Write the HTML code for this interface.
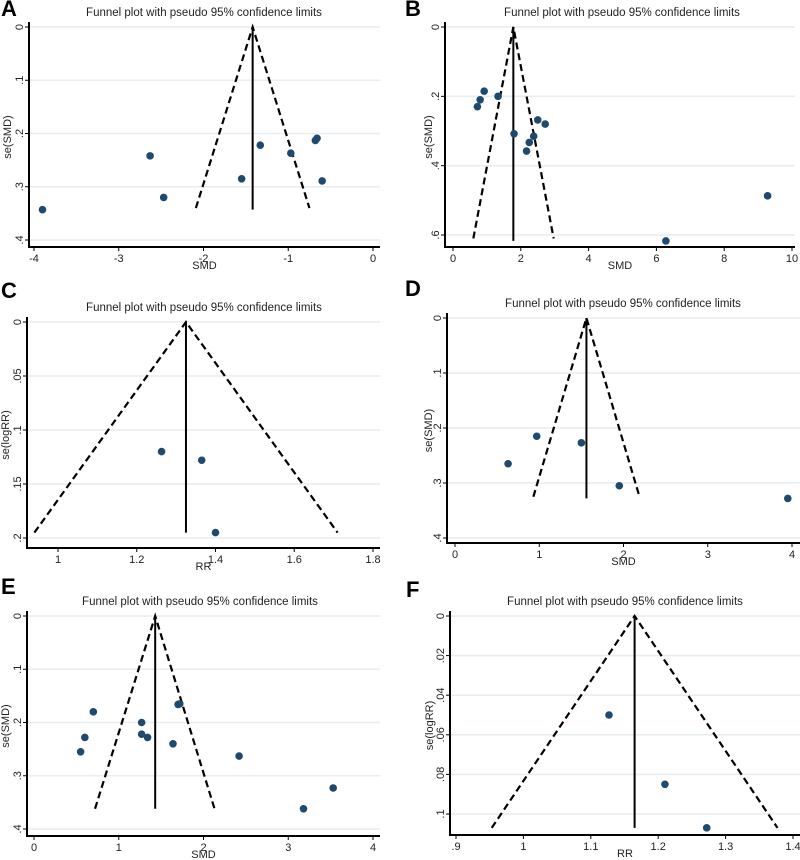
<!DOCTYPE html>
<html><head><meta charset="utf-8">
<style>
html,body{margin:0;padding:0;background:#fff;}
svg{display:block;font-family:"Liberation Sans",Arial,sans-serif;}
</style></head>
<body>
<svg id="fig" width="800" height="860" viewBox="0 0 800 860"></svg>
<script>
// Panel A data
const aSMD = [-3.9, -2.63, -2.47, -1.55, -1.33, -0.97, -0.68, -0.66, -0.6];
const aSE  = [0.343, 0.242, 0.32, 0.285, 0.222, 0.237, 0.213, 0.209, 0.289];
const aXTicks = [-4, -3, -2, -1, 0];
const aXTickLabels = ["-4", "-3", "-2", "-1", "0"];
const aYTicks = [0, 0.1, 0.2, 0.3, 0.4];
const aYTickLabels = ["0", ".1", ".2", ".3", ".4"];
const aPooled = [-1.42];
const aFunnelBottom = [0.34];
const aLimits = [-2.09, -0.75];
// Panel B data
const bSMD = [0.72, 0.8, 0.92, 1.33, 1.8, 2.17, 2.25, 2.38, 2.5, 2.72, 9.28, 6.28];
const bSE  = [0.23, 0.21, 0.185, 0.2, 0.308, 0.358, 0.333, 0.315, 0.268, 0.28, 0.487, 0.617];
const bXTicks = [0, 2, 4, 6, 8, 10];
const bXTickLabels = ["0", "2", "4", "6", "8", "10"];
const bYTicks = [0, 0.2, 0.4, 0.6];
const bYTickLabels = ["0", ".2", ".4", ".6"];
const bPooled = [1.78];
const bFunnelBottom = [0.61];
const bLimits = [0.6, 2.97];
// Panel C data
const cRR = [1.263, 1.365, 1.4];
const cSE = [0.12, 0.128, 0.195];
const cXTicks = [1, 1.2, 1.4, 1.6, 1.8];
const cXTickLabels = ["1", "1.2", "1.4", "1.6", "1.8"];
const cYTicks = [0, 0.05, 0.1, 0.15, 0.2];
const cYTickLabels = ["0", ".05", ".1", ".15", ".2"];
const cPooled = [1.325];
const cFunnelBottom = [0.195];
const cLimits = [0.94, 1.71];
// Panel D data
const dSMD = [0.63, 0.97, 1.5, 1.95, 3.95];
const dSE  = [0.265, 0.215, 0.227, 0.305, 0.328];
const dXTicks = [0, 1, 2, 3, 4];
const dXTickLabels = ["0", "1", "2", "3", "4"];
const dYTicks = [0, 0.1, 0.2, 0.3, 0.4];
const dYTickLabels = ["0", ".1", ".2", ".3", ".4"];
const dPooled = [1.56];
const dFunnelBottom = [0.325];
const dLimits = [0.93, 2.19];
// Panel E data
const eSMD = [0.55, 0.6, 0.7, 1.27, 1.27, 1.34, 1.64, 1.7, 1.72, 2.42, 3.18, 3.53];
const eSE  = [0.255, 0.228, 0.18, 0.2, 0.222, 0.228, 0.24, 0.166, 0.165, 0.263, 0.362, 0.323];
const eXTicks = [0, 1, 2, 3, 4];
const eXTickLabels = ["0", "1", "2", "3", "4"];
const eYTicks = [0, 0.1, 0.2, 0.3, 0.4];
const eYTickLabels = ["0", ".1", ".2", ".3", ".4"];
const ePooled = [1.43];
const eFunnelBottom = [0.362];
const eLimits = [0.72, 2.13];
// Panel F data
const fRR = [1.127, 1.21, 1.272];
const fSE = [0.05, 0.085, 0.107];
const fXTicks = [0.9, 1, 1.1, 1.2, 1.3, 1.4];
const fXTickLabels = [".9", "1", "1.1", "1.2", "1.3", "1.4"];
const fYTicks = [0, 0.02, 0.04, 0.06, 0.08, 0.1];
const fYTickLabels = ["0", ".02", ".04", ".06", ".08", ".1"];
const fPooled = [1.165];
const fFunnelBottom = [0.107];
const fLimits = [0.953, 1.377];

const NS = "http://www.w3.org/2000/svg";
const fig = document.getElementById("fig");
function mk(tag, attrs, parent, text) {
  const e = document.createElementNS(NS, tag);
  for (const k in attrs) e.setAttribute(k, attrs[k]);
  if (text !== undefined) e.textContent = text;
  (parent || fig).appendChild(e);
  return e;
}

function panel(cfg) {
  const g = mk("g", {});
  
  
  const sx = v => cfg.px0 + (v - cfg.xv0) / (cfg.xv1 - cfg.xv0) * (cfg.px1 - cfg.px0);
  const sy = v => cfg.py0 + (v - cfg.yv0) / (cfg.yv1 - cfg.yv0) * (cfg.py1 - cfg.py0);

  const letter = mk("text", {x: cfg.lx, y: cfg.ly, "font-size": 22, "font-weight": "bold", fill: "#000"}, g, cfg.letter);
  
  
  const title = mk("text", {x: cfg.tx, y: cfg.ty, "font-size": 11.5, "text-anchor": "middle", fill: "#222"}, g, "Funnel plot with pseudo 95% confidence limits");
  
  

  cfg.yt.forEach((v, i) => {
    const y = sy(v);
    const gl = mk("line", {x1: cfg.ax + 1, x2: cfg.right, y1: y, y2: y, stroke: "#e6eef1", "stroke-width": 1.6}, g);
    
    
    mk("line", {x1: cfg.ax - 4, x2: cfg.ax, y1: y, y2: y, stroke: "#000", "stroke-width": 1}, g);
    const t = mk("text", {x: cfg.ax - 10, y: y, "font-size": 11, "text-anchor": "middle", fill: "#222",
      transform: `rotate(-90 ${cfg.ax - 10} ${y})`, dy: "0.35em"}, g, cfg.ytl[i]);
    
    
  });
  cfg.xt.forEach((v, i) => {
    const x = sx(v);
    mk("line", {x1: x, x2: x, y1: cfg.ay, y2: cfg.ay + 4, stroke: "#000", "stroke-width": 1}, g);
    const t = mk("text", {x: x, y: cfg.ay + 15, "font-size": 11, "text-anchor": "middle", fill: "#222"}, g, cfg.xtl[i]);
    
    
  });
  const yax = mk("line", {x1: cfg.ax, x2: cfg.ax, y1: sy(cfg.yv0) - 5, y2: cfg.ay + 1, stroke: "#000", "stroke-width": 2}, g);
  
  
  const xax = mk("line", {x1: cfg.ax, x2: cfg.right, y1: cfg.ay, y2: cfg.ay, stroke: "#000", "stroke-width": 2}, g);
  
  

  const xl = mk("text", {x: (cfg.ax + cfg.right) / 2, y: cfg.ay + 22, "font-size": 11, "text-anchor": "middle", fill: "#222"}, g, cfg.xlabel);
  
  
  const ymid = (sy(cfg.yv0) + cfg.ay) / 2;
  const yl = mk("text", {x: cfg.ylx, y: ymid, "font-size": 11, "text-anchor": "middle", fill: "#222",
    transform: `rotate(-90 ${cfg.ylx} ${ymid})`}, g, cfg.ylabel);
  
  

  const p = cfg.pooled[0], fb = cfg.fb[0];
  const fn = mk("polyline", {points: `${sx(cfg.lim[0])},${sy(fb)} ${sx(p)},${sy(0)} ${sx(cfg.lim[1])},${sy(fb)}`,
    fill: "none", stroke: "#000", "stroke-width": 2.2, "stroke-dasharray": "7,4"}, g);
  
  
  const vmax = Math.max(...cfg.ys);
  const vl = mk("line", {x1: sx(p), x2: sx(p), y1: sy(0), y2: sy(vmax), stroke: "#000", "stroke-width": 2}, g);
  
  

  cfg.xs.forEach((v, i) => {
    const c = mk("circle", {cx: sx(v), cy: sy(cfg.ys[i]), r: 3.8, fill: "#1f4a6e"}, g);
    
    
  });
}

panel({letter: "A", lx: 1, ly: 16, tx: 204, ty: 16, xs: aSMD, ys: aSE, xt: aXTicks, xtl: aXTickLabels, yt: aYTicks, ytl: aYTickLabels,
  pooled: aPooled, fb: aFunnelBottom, lim: aLimits, xv0: -4, xv1: 0, px0: 34, px1: 373, yv0: 0, yv1: 0.4, py0: 27, py1: 240,
  ax: 29, ay: 247, right: 380, xlabel: "SMD", ylabel: "se(SMD)", ylx: 11});
panel({letter: "B", lx: 405, ly: 16, tx: 622, ty: 16, xs: bSMD, ys: bSE, xt: bXTicks, xtl: bXTickLabels, yt: bYTicks, ytl: bYTickLabels,
  pooled: bPooled, fb: bFunnelBottom, lim: bLimits, xv0: 0, xv1: 10, px0: 453, px1: 792, yv0: 0, yv1: 0.6, py0: 27, py1: 235,
  ax: 445, ay: 247, right: 795, xlabel: "SMD", ylabel: "se(SMD)", ylx: 432});
panel({letter: "C", lx: 1, ly: 298, tx: 204, ty: 311, xs: cRR, ys: cSE, xt: cXTicks, xtl: cXTickLabels, yt: cYTicks, ytl: cYTickLabels,
  pooled: cPooled, fb: cFunnelBottom, lim: cLimits, xv0: 1, xv1: 1.8, px0: 58, px1: 373, yv0: 0, yv1: 0.2, py0: 322, py1: 538,
  ax: 27, ay: 548, right: 380, xlabel: "RR", ylabel: "se(logRR)", ylx: 9});
panel({letter: "D", lx: 405, ly: 296, tx: 623, ty: 307, xs: dSMD, ys: dSE, xt: dXTicks, xtl: dXTickLabels, yt: dYTicks, ytl: dYTickLabels,
  pooled: dPooled, fb: dFunnelBottom, lim: dLimits, xv0: 0, xv1: 4, px0: 455, px1: 792, yv0: 0, yv1: 0.4, py0: 318, py1: 538,
  ax: 447, ay: 543, right: 800, xlabel: "SMD", ylabel: "se(SMD)", ylx: 432});
panel({letter: "E", lx: 1, ly: 594, tx: 200, ty: 605, xs: eSMD, ys: eSE, xt: eXTicks, xtl: eXTickLabels, yt: eYTicks, ytl: eYTickLabels,
  pooled: ePooled, fb: eFunnelBottom, lim: eLimits, xv0: 0, xv1: 4, px0: 34, px1: 373, yv0: 0, yv1: 0.4, py0: 616, py1: 829,
  ax: 27, ay: 836, right: 380, xlabel: "SMD", ylabel: "se(SMD)", ylx: 9});
panel({letter: "F", lx: 406, ly: 597, tx: 625, ty: 605, xs: fRR, ys: fSE, xt: fXTicks, xtl: fXTickLabels, yt: fYTicks, ytl: fYTickLabels,
  pooled: fPooled, fb: fFunnelBottom, lim: fLimits, xv0: 0.9, xv1: 1.4, px0: 456, px1: 793, yv0: 0, yv1: 0.1, py0: 616, py1: 814,
  ax: 450, ay: 835, right: 800, xlabel: "RR", ylabel: "se(logRR)", ylx: 433});
</script>
</body></html>
